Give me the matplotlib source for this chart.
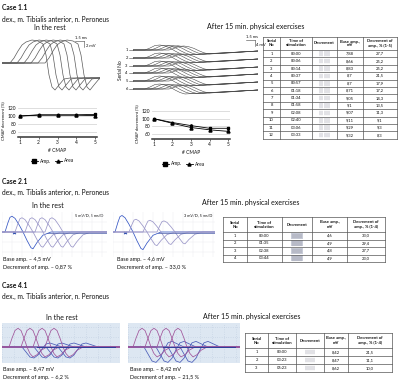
import matplotlib.pyplot as plt

plt.rcParams['font.family'] = ['Lato', 'DejaVu Sans']

# ---------------- data ----------------
cmap_no = [1, 2, 3, 4, 5]
rest_amp = [100, 103, 103, 103, 104]
rest_area = [100, 102, 102, 102, 101]
rest_sd = [1.5, 2, 1.5, 2, 2.5]
after_amp = [100, 90, 82, 75, 75]
after_area = [100, 88, 77, 71, 67]
after_sd = [2, 2.5, 3, 3, 3]

c1_serial = list(range(1, 13))
c1_time = ['00:00', '00:06', '00:14', '00:37', '00:57', '01:18',
           '01:34', '01:58', '02:08', '02:40', '03:06', '03:33']
c1_base = [7.88, 8.66, 8.83, 8.7, 8.7, 8.71, 9.05, 9.1, 9.07, 9.11, 9.29, 9.32]
c1_decr = [27.7, 25.2, 25.2, 21.5, 17.9, 17.2, 14.3, 13.5, 11.3, 9.1, 9.3, 8.3]

c2_serial = [1, 2, 3, 4]
c2_time = ['00:00', '01:35', '02:38', '03:44']
c2_base = [4.6, 4.9, 4.8, 4.9]
c2_decr = [33.0, 29.4, 27.7, 23.0]

c4_serial = [1, 2, 3]
c4_time = ['00:00', '03:23', '05:23']
c4_base = [8.42, 8.47, 8.62]
c4_decr = [21.5, 11.1, 10.0]

# CMAP trace shapes (time offset, amplitude)
c1_rest_t = [0, 4, 8, 12, 16, 22, 28, 33, 36, 39, 42, 45, 49, 54, 60]
c1_rest_v = [0, 5, 12, 18, 21, 23, 22, 19, 8, -12, -24, -27, -22, -16, -15]
c1_rest_onset = [8, 15, 22, 29, 36, 43]

c1_after_t = [0, 5, 10, 15, 20, 25, 30, 35, 40, 48, 56]
c1_after_v = [0, 2, 4.5, 5, 4, 2, -1, -3.5, -5, -4.5, -4]
c1_after_onset = [12, 18, 24, 30, 36]
c1_after_scale = [1.0, 0.95, 0.9, 0.85, 0.8]

c2_t = [0, 3, 5, 7, 10, 14, 18, 22, 26, 28, 32, 38, 46]
c2_v = [0, 9, 14, 15, 13, 7, 0, -8, -15, -16, -10, -3, 0]
c2_rest_onset = [3, 13, 23, 33, 43]
c2_rest_scale = [1.05, 0.95, 0.95, 0.95, 0.95]
c2_after_onset = [2, 16, 30, 44]
c2_after_scale = [1.1, 0.85, 0.78, 0.74]

c4_up_t = [0, 3, 6, 9, 12, 15, 18, 21, 24, 28, 32, 38]
c4_up_v = [0, 8, 15, 17, 15, 8, 0, -6, -9, -7, -3, 0]
c4_down_t = [0, 4, 8, 12, 16, 20, 24, 28, 34, 40]
c4_down_v = [0, -5, -10, -11, -8, -2, 3, 4, 2, 0]
c4_rest_up_onset = [7, 19, 31, 43]
c4_rest_down_onset = [20, 32, 44, 56]
c4_after_up_onset = [5, 17, 29, 41]
c4_after_down_onset = [16, 28, 40, 52]

# ---------------- layout helpers ----------------
W, H = 400, 383
fig = plt.figure(figsize=(4.0, 3.83), dpi=100)
canvas = fig.add_axes([0, 0, 1, 1])
canvas.set_xlim(0, W)
canvas.set_ylim(H, 0)
canvas.axis('off')

TXT = '#111111'


def px_axes(x0, y0, x1, y1):
    ax = fig.add_axes([x0 / W, 1 - y1 / H, (x1 - x0) / W, (y1 - y0) / H])
    ax.patch.set_alpha(0)
    return ax


def fmt(v, dec=None):
    s = f'{v:.{dec}f}' if dec is not None else f'{v:g}'
    return s.replace('.', ',')


def trace(ax, onset, ts, vs, scale, color, x_end, lw=0.5):
    xs = [0] + [onset + t for t in ts] + [x_end]
    ys = [0] + [scale * v for v in vs] + [scale * vs[-1]]
    ax.plot(xs, ys, color=color, lw=lw)


def head(y, case):
    canvas.text(2, y, case, fontsize=4.9, fontweight='bold', va='center', color=TXT)
    canvas.text(2, y + 11, 'dex., m. Tibialis anterior, n. Peroneus',
                fontsize=4.8, va='center', color=TXT)


def draw_table(xe, y_top, head_h, row_h, serial, time, base, decr, last_hdr,
               cell_bg=None):
    n = len(serial)
    ye = [y_top, y_top + head_h] + [y_top + head_h + row_h * (i + 1) for i in range(n)]
    for x in xe:
        canvas.plot([x, x], [ye[0], ye[-1]], color='#555555', lw=0.5)
    for y in ye:
        canvas.plot([xe[0], xe[-1]], [y, y], color='#555555', lw=0.5)
    hdr = ['Serial\nNo', 'Time of\nstimulation', 'Decrement', 'Base amp.,\nmV', last_hdr]
    for j, h in enumerate(hdr):
        canvas.text((xe[j] + xe[j + 1]) / 2, (ye[0] + ye[1]) / 2, h, fontsize=3.0,
                    fontweight='bold', ha='center', va='center', linespacing=1.0,
                    color=TXT)
    for i in range(n):
        yc = (ye[i + 1] + ye[i + 2]) / 2
        vals = [str(serial[i]), time[i], None, fmt(base[i]), fmt(decr[i], 1)]
        for j, v in enumerate(vals):
            if v is None:
                continue
            canvas.text((xe[j] + xe[j + 1]) / 2, yc, v, fontsize=3.0,
                        ha='center', va='center', color=TXT)
        xc = (xe[2] + xe[3]) / 2
        hh = row_h * 0.3
        if cell_bg:
            canvas.add_patch(plt.Rectangle((xc - 6, yc - hh - 0.8), 12, 2 * hh + 1.6,
                                           color=cell_bg, lw=0))
        for k in range(5):
            xk = xc - 4.4 + 2.2 * k
            canvas.plot([xk, xk], [yc - hh, yc + hh], color='#777788', lw=0.3)


def decrement_plot(box, amp, area, sd, ylim, xlab_y, leg_y, leg_x):
    ax = px_axes(*box)
    ax.errorbar(cmap_no, amp, yerr=sd, color='black', marker='s', ms=2.0,
                lw=0.6, elinewidth=0.5, capsize=1.0, capthick=0.5)
    ax.errorbar(cmap_no, area, yerr=sd, color='black', marker='^', ms=2.2,
                lw=0.6, elinewidth=0.5, capsize=1.0, capthick=0.5)
    ax.set_xlim(0.9, 5.1)
    ax.set_ylim(*ylim)
    ax.set_yticks([60, 80, 100, 120])
    ax.set_xticks(cmap_no)
    ax.grid(axis='y', color='#d0d0d0', lw=0.5)
    for s in ['top', 'right', 'left']:
        ax.spines[s].set_visible(False)
    ax.spines['bottom'].set_linewidth(1.1)
    ax.spines['bottom'].set_color('#333333')
    ax.tick_params(axis='y', length=0, labelsize=3.5, pad=1.5, labelcolor=TXT)
    ax.tick_params(axis='x', length=1.2, width=0.4, labelsize=3.5, pad=1.2,
                   labelcolor=TXT)
    ax.set_ylabel('CMAP decrement (%)', fontsize=3.0, labelpad=1.5, color=TXT)
    x0, x1 = box[0], box[2]
    canvas.text((x0 + x1) / 2, xlab_y, '# CMAP', fontsize=3.5, ha='center',
                va='center', color=TXT)
    for mk, lab, dx in [('s', 'Amp.', 0), ('^', 'Area', 24)]:
        xm = leg_x + dx
        canvas.plot([xm - 3.5, xm + 3.5], [leg_y, leg_y], color='black', lw=0.6)
        canvas.plot([xm], [leg_y], marker=mk, ms=2.2, color='black')
        canvas.text(xm + 6, leg_y, lab, fontsize=3.5, va='center', color=TXT)


def scale_bar(x, y, t1, t2):
    canvas.text(x, y, t1, fontsize=3.0, ha='left', va='center', color=TXT)
    canvas.plot([x, x + 9], [y + 3, y + 3], color='#444444', lw=0.4)
    canvas.plot([x + 9, x + 9], [y + 3, y + 9], color='#444444', lw=0.4)
    canvas.text(x + 10.5, y + 8, t2, fontsize=3.0, ha='left', va='center', color=TXT)


# ================= Case 1.1 =================
head(8, 'Case 1.1')
canvas.text(50, 28, 'In the rest', fontsize=5, ha='center', va='center', color=TXT)
canvas.text(207, 27, 'After 15 min. physical exercises', fontsize=5, va='center',
            color=TXT)

ax = px_axes(2, 35, 100, 97)
for onset in c1_rest_onset:
    trace(ax, onset, c1_rest_t, c1_rest_v, 1.0, '#5a5a5a', 98, lw=0.5)
ax.set_xlim(0, 98)
ax.set_ylim(-34, 28)
ax.axis('off')
scale_bar(75, 38, '1.5 ms', '2 mV')

# serial rows after exercise
rows_y = [50, 58, 66, 73, 81, 89]
ax = px_axes(133, 42, 258, 98)
for ry in rows_y:
    for onset, sc in zip(c1_after_onset, c1_after_scale):
        xs = [0] + [onset + t for t in c1_after_t] + [125]
        ys = [ry] + [ry - sc * v for v in c1_after_v] + [ry + 1]
        ax.plot(xs, ys, color='#4a4a4a', lw=0.4)
ax.set_xlim(0, 125)
ax.set_ylim(98, 42)
ax.axis('off')
canvas.text(121, 70, 'Serial No', fontsize=3.5, rotation=90, ha='center',
            va='center', color=TXT)
for k, ry in enumerate(rows_y):
    canvas.text(126.5, ry, str(k + 1), fontsize=3, ha='center', va='center', color=TXT)
    canvas.plot([128.5, 133], [ry, ry], color='#4a4a4a', lw=0.4)
scale_bar(246, 37, '1.5 ms', '4 mV')

decrement_plot((18, 105, 97, 137), rest_amp, rest_area, rest_sd, (47.5, 127.5),
               150, 161, 34)
decrement_plot((152, 108, 230, 139), after_amp, after_area, after_sd, (47, 128),
               152, 164, 165)

draw_table([263, 280, 312, 337, 363, 397], 37, 13, 7.4, c1_serial, c1_time,
           c1_base, c1_decr, 'Decrement of\namp., % (1-5)')

# ================= Case 2.1 =================
head(181, 'Case 2.1')
canvas.text(48, 205, 'In the rest', fontsize=5, ha='center', va='center', color=TXT)
canvas.text(202, 203, 'After 15 min. physical exercises', fontsize=5, va='center',
            color=TXT)


def c2_panel(box, onsets, scales, label, lab_x):
    ax = px_axes(*box)
    w = box[2] - box[0]
    for k, (onset, sc) in enumerate(zip(onsets, scales)):
        col = '#3556c4' if k == 0 else '#9a96c8'
        trace(ax, onset, c2_t, c2_v, sc, col, w, lw=0.55)
    ax.plot([45, w], [-0.5, -0.5], color='#4b5ea8', lw=0.5)
    ax.set_xlim(0, w)
    ax.set_ylim(-25, 20)
    ax.set_xticks(range(0, int(w), 10))
    ax.set_yticks([-20, -10, 0, 10])
    ax.grid(color='#ececf2', lw=0.35)
    ax.tick_params(length=0, labelbottom=False, labelleft=False)
    for s in ax.spines.values():
        s.set_visible(False)
    canvas.text(lab_x, box[1] + 3, label, fontsize=2.8, ha='right', va='center',
                color=TXT)
    canvas.annotate('', xy=(box[0] + 8, 233), xytext=(box[0] + 17, 233),
                    arrowprops=dict(arrowstyle='<->', color='#2f4fb0', lw=0.8,
                                    mutation_scale=3))
    return ax


c2_panel((2, 212, 107, 257), c2_rest_onset, c2_rest_scale, '5 mV/D, 5 ms/D', 103)
c2_panel((113, 212, 215, 257), c2_after_onset, c2_after_scale, '3 mV/D, 5 ms/D', 212)
canvas.text(3, 260, 'Base amp. \u2013 4,5 mV', fontsize=4, va='center', color=TXT)
canvas.text(3, 267, 'Decrement of amp. \u2013 0,87 %', fontsize=4, va='center', color=TXT)
canvas.text(117, 260, 'Base amp. \u2013 4,6 mV', fontsize=4, va='center', color=TXT)
canvas.text(117, 267, 'Decrement of amp. \u2013 33,0 %', fontsize=4, va='center', color=TXT)

draw_table([223, 247, 282, 312, 347, 385], 217, 15, 7.5, c2_serial, c2_time,
           c2_base, c2_decr, 'Decrement of\namp., % (1-4)', cell_bg='#c8ccd8')

# ================= Case 4.1 =================
head(285, 'Case 4.1')
canvas.text(62, 317, 'In the rest', fontsize=5, ha='center', va='center', color=TXT)
canvas.text(203, 317, 'After 15 min. physical exercises', fontsize=5, va='center',
            color=TXT)


def c4_panel(box, up_on, down_on, up_sc, down_sc, label, lab_x):
    ax = fig.add_axes([box[0] / W, 1 - box[3] / H, (box[2] - box[0]) / W,
                       (box[3] - box[1]) / H])
    ax.set_facecolor('#dde7f2')
    w = box[2] - box[0]
    for onset in down_on:
        trace(ax, onset, c4_down_t, c4_down_v, down_sc, '#4a5cb8', w, lw=0.55)
    for onset in up_on:
        trace(ax, onset, c4_up_t, c4_up_v, up_sc, '#a0549a', w, lw=0.55)
    ax.plot([35, w - 5], [0, 0], color='#2d3e9a', lw=0.7)
    ax.set_xlim(0, w)
    ax.set_ylim(-16, 24)
    ax.set_xticks(range(0, int(w), 12))
    ax.set_yticks([-10, 0, 10, 20])
    ax.grid(color='#aebfd6', lw=0.4, ls=(0, (1, 3)))
    ax.tick_params(length=0, labelbottom=False, labelleft=False)
    for s in ax.spines.values():
        s.set_visible(False)
    canvas.text(lab_x, box[1] + 9, label, fontsize=2.8, ha='right', va='center',
                color=TXT)


c4_panel((2, 323, 120, 363), c4_rest_up_onset, c4_rest_down_onset, 1.1, 1.0,
         '5 mV/D, 4 ms/D', 112)
c4_panel((128, 323, 240, 363), c4_after_up_onset, c4_after_down_onset, 1.1, 1.4,
         '3 mV/D, 5 ms/D', 236)
canvas.text(3, 369, 'Base amp. \u2013 8,47 mV', fontsize=4, va='center', color=TXT)
canvas.text(3, 377, 'Decrement of amp. \u2013 6,2 %', fontsize=4, va='center', color=TXT)
canvas.text(130, 369, 'Base amp. \u2013 8,42 mV', fontsize=4, va='center', color=TXT)
canvas.text(130, 377, 'Decrement of amp. \u2013 21,5 %', fontsize=4, va='center', color=TXT)

draw_table([245, 268, 296, 324, 348, 392], 333, 15, 8, c4_serial, c4_time,
           c4_base, c4_decr, 'Decrement of\namp., % (1-4)')

fig.savefig('out.png', dpi=100)
